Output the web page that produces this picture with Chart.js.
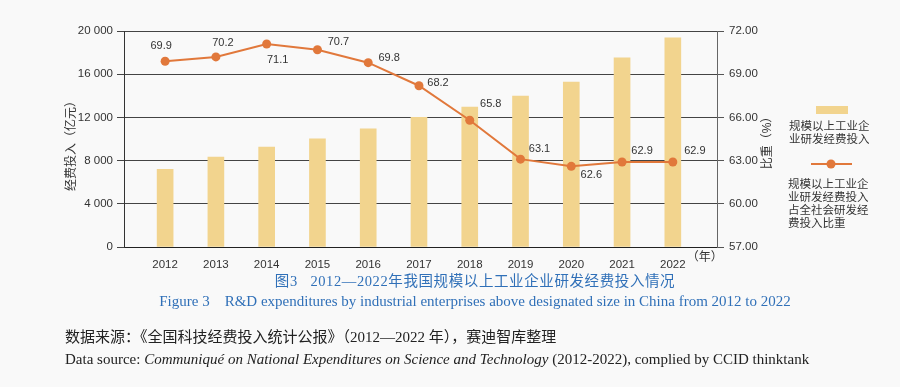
<!DOCTYPE html>
<html><head><meta charset="utf-8">
<script src="https://cdn.jsdelivr.net/npm/chart.js@4/dist/chart.umd.min.js"></script>
<style>
html,body{margin:0;padding:0;background:#f9f9f9;}
#wrap{position:relative;width:900px;height:387px;overflow:hidden;background:#f9f9f9;}
#c{position:absolute;left:0;top:0;}
.cap{position:absolute;white-space:nowrap;line-height:1;transform:translateY(-50%);}
#t1{left:475px;top:279px;transform:translate(-50%,-50%);color:#3070b8;font:14.5px "Liberation Serif","Noto Sans CJK SC",serif;letter-spacing:0.6px;}
#t2{left:475px;top:301px;transform:translate(-50%,-50%);color:#3070b8;font:15px "Liberation Serif",serif;}
#s1{left:65px;top:335px;color:#222;font:15px "Liberation Serif","Noto Sans CJK SC",serif;}
#s2{left:65px;top:359px;color:#222;font:15px "Liberation Serif",serif;}
</style></head><body>
<div id="wrap">
<canvas id="c" width="900" height="387"></canvas>
<div class="cap" id="t1">图3&nbsp;&nbsp;&nbsp;2012—2022年我国规模以上工业企业研发经费投入情况</div>
<div class="cap" id="t2">Figure 3&nbsp;&nbsp;&nbsp;&nbsp;R&amp;D expenditures by industrial enterprises above designated size in China from 2012 to 2022</div>
<div class="cap" id="s1">数据来源：《全国科技经费投入统计公报》（2012—2022 年），赛迪智库整理</div>
<div class="cap" id="s2">Data source: <i>Communiqué on National Expenditures on Science and Technology</i> (2012-2022), complied by CCID thinktank</div>
</div>
<script>
// ---- data ----
const years = [2012, 2013, 2014, 2015, 2016, 2017, 2018, 2019, 2020, 2021, 2022];
const rdSpend = [7200, 8318, 9254, 10014, 10945, 12013, 12955, 13971, 15271, 17514, 19362]; // 亿元
const rdShare = [69.9, 70.2, 71.1, 70.7, 69.8, 68.2, 65.8, 63.1, 62.6, 62.9, 62.9]; // %
const leftTicks = [0, 4000, 8000, 12000, 16000, 20000];
const leftTickLabels = ['0', '4 000', '8 000', '12 000', '16 000', '20 000'];
const rightTicks = [57, 60, 63, 66, 69, 72];
const rightTickLabels = ['57.00', '60.00', '63.00', '66.00', '69.00', '72.00'];
const barLegend = ['规模以上工业企', '业研发经费投入'];
const lineLegend = ['规模以上工业企', '业研发经费投入', '占全社会研发经', '费投入比重'];
const leftTitle = '经费投入（亿元）';
const rightTitle = '比重（%）';
const xUnit = '（年）';

// ---- styles / positions ----
const BAR_COLOR = '#f2d48e';
const LINE_COLOR = '#e1783b';
const TXT = '#333';
const FONT = '"Liberation Sans", "Noto Sans CJK SC", sans-serif';
const labelOffsets = [[-4,-15],[7,-14],[11,16],[21,-8],[21,-5],[19,-3],[21,-16],[19,-10],[20,9],[20,-11],[22,-11]];

const extras = {
  id: 'extras',
  afterDatasetsDraw(chart) {
    const ctx = chart.ctx;
    const meta = chart.getDatasetMeta(1);
    ctx.save();
    ctx.fillStyle = TXT;
    ctx.font = '11px ' + FONT;
    ctx.textAlign = 'center';
    ctx.textBaseline = 'middle';
    meta.data.forEach((pt, i) => {
      const o = labelOffsets[i];
      ctx.fillText(rdShare[i].toFixed(1), pt.x + o[0], pt.y + o[1]);
    });
    // x unit
    const xs = chart.scales.x;
    ctx.font = '12px ' + FONT;
    ctx.textAlign = 'left';
    ctx.fillText(xUnit, xs.getPixelForValue(years[years.length-1]) + 14, 258);
    // axis titles
    const ca = chart.chartArea;
    const cy = (ca.top + ca.bottom) / 2;
    ctx.textAlign = 'center';
    ctx.save(); ctx.translate(72, cy + 4); ctx.rotate(-Math.PI/2); ctx.fillText(leftTitle, 0, 0); ctx.restore();
    ctx.save(); ctx.translate(768, cy + 1); ctx.rotate(-Math.PI/2); ctx.fillText(rightTitle, 0, 0); ctx.restore();
    // legend
    ctx.fillStyle = BAR_COLOR;
    ctx.fillRect(816, 106, 32, 8);
    ctx.fillStyle = TXT;
    ctx.font = '11.5px ' + FONT;
    ctx.textAlign = 'left';
    barLegend.forEach((t, i) => ctx.fillText(t, 789, 127 + i * 13));
    ctx.strokeStyle = LINE_COLOR; ctx.lineWidth = 2;
    ctx.beginPath(); ctx.moveTo(811, 164); ctx.lineTo(852, 164); ctx.stroke();
    ctx.fillStyle = LINE_COLOR;
    ctx.beginPath(); ctx.arc(831, 164, 4.5, 0, Math.PI*2); ctx.fill();
    ctx.fillStyle = TXT;
    lineLegend.forEach((t, i) => ctx.fillText(t, 788, 185 + i * 13));
    ctx.restore();
  }
};

new Chart(document.getElementById('c'), {
  type: 'bar',
  data: {
    datasets: [
      { type: 'bar', data: years.map((y, i) => ({x: y, y: rdSpend[i]})), backgroundColor: BAR_COLOR, barThickness: 16, yAxisID: 'y', order: 1 },
      { type: 'line', data: years.map((y, i) => ({x: y, y: rdShare[i]})), borderColor: LINE_COLOR, borderWidth: 2, pointRadius: 4.5, pointBackgroundColor: LINE_COLOR, pointBorderWidth: 0, yAxisID: 'y1', order: 0, tension: 0 }
    ]
  },
  options: {
    responsive: false, animation: false,
    layout: { padding: { top: 31, left: 0, right: 0, bottom: 0 } },
    plugins: { legend: { display: false }, tooltip: { enabled: false } },
    scales: {
      x: {
        type: 'linear', min: 2011.19, max: 2022.87, offset: false,
        afterBuildTicks: s => { s.ticks = years.map(v => ({value: v})); },
        afterFit: s => { s.height = 140; },
        grid: { display: false },
        border: { display: true, color: '#222', width: 1 },
        ticks: { callback: (v, i) => String(years[i]), color: TXT, font: { size: 11.5, family: FONT }, padding: 3, maxRotation: 0, autoSkip: false }
      },
      y: {
        position: 'left', min: 0, max: 20000,
        afterBuildTicks: s => { s.ticks = leftTicks.map(v => ({value: v})); },
        afterFit: s => { s.width = 124; },
        grid: { color: '#444', lineWidth: 1, tickLength: 7 },
        border: { color: '#333', width: 1 },
        ticks: { callback: (v, i) => leftTickLabels[i], color: TXT, font: { size: 11.5, family: FONT }, padding: 4 }
      },
      y1: {
        position: 'right', min: 57, max: 72,
        afterBuildTicks: s => { s.ticks = rightTicks.map(v => ({value: v})); },
        afterFit: s => { s.width = 183; },
        grid: { drawOnChartArea: false, color: '#555', tickLength: 7 },
        border: { color: '#666', width: 1 },
        ticks: { callback: (v, i) => rightTickLabels[i], color: TXT, font: { size: 11.5, family: FONT }, padding: 5 }
      }
    }
  },
  plugins: [extras]
});
</script>
</body></html>
